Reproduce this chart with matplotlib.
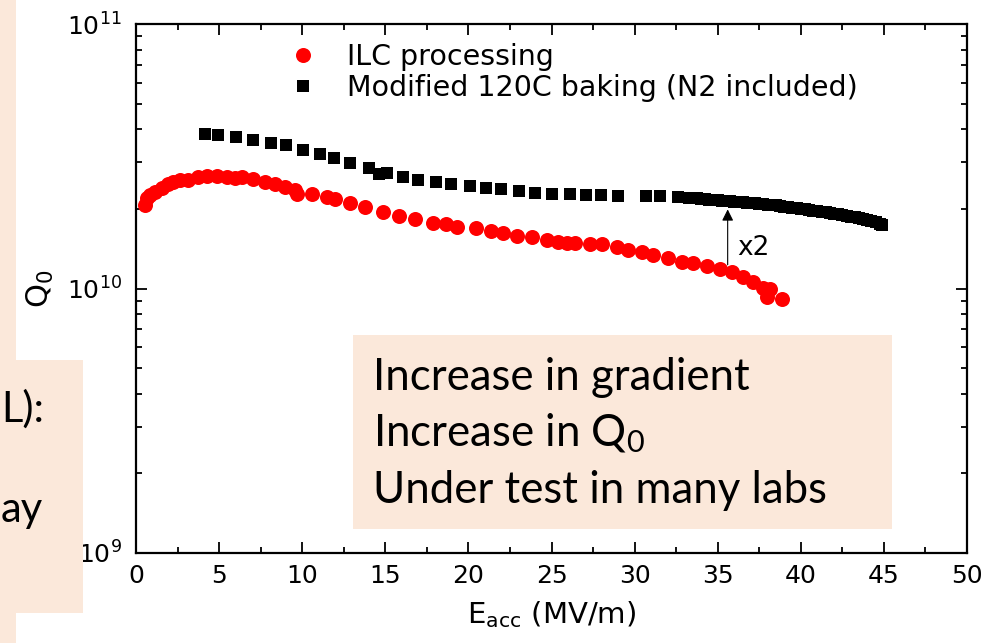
import matplotlib.pyplot as plt
from matplotlib.patches import Rectangle
from matplotlib.ticker import MultipleLocator, LogLocator, NullFormatter

# ILC processing: E_acc (MV/m) and Q0 (units of 1e10)
ilc_e = [0.54, 0.66, 0.84, 1.14, 1.56, 1.93, 2.23, 2.65, 3.13, 3.73, 4.27, 4.87,
         5.48, 5.96, 6.38, 7.04, 7.76, 8.36, 8.97, 9.57, 9.69, 10.59, 11.49, 11.97,
         12.9, 13.78, 14.86, 15.82, 16.79, 17.87, 18.65, 19.31, 20.46, 21.36, 22.08,
         22.92, 23.83, 24.73, 25.39, 25.93, 26.41, 27.32, 28.04, 28.94, 29.60, 30.45,
         31.11, 32.01, 32.85, 33.51, 34.36, 35.14, 35.86, 36.52, 37.12, 37.73, 38.15,
         37.97, 38.87]
ilc_q = [2.07, 2.20, 2.26, 2.32, 2.40, 2.48, 2.53, 2.57, 2.57, 2.64, 2.66, 2.66,
         2.64, 2.62, 2.64, 2.59, 2.53, 2.48, 2.42, 2.36, 2.28, 2.28, 2.22, 2.18,
         2.10, 2.03, 1.95, 1.88, 1.83, 1.77, 1.75, 1.71, 1.69, 1.65, 1.62,
         1.58, 1.57, 1.53, 1.50, 1.49, 1.485, 1.47, 1.47, 1.44, 1.40, 1.37,
         1.34, 1.30, 1.26, 1.25, 1.22, 1.19, 1.15, 1.105, 1.06, 1.005, 1.0,
         0.929, 0.912]

# Modified 120C baking (N2 included)
bake_e = [4.15, 4.93, 6.02, 7.04, 8.12, 9.03, 10.05, 11.07, 11.91, 12.9, 14.02, 14.62,
          15.10, 16.07, 16.97, 18.05, 18.95, 20.10, 21.06, 21.96, 23.04, 24.01, 25.03,
          26.1, 27.1, 28.0, 29.0, 30.7, 31.5, 32.6,
          33.25, 33.5, 33.75, 34.0, 34.25, 34.5, 34.75, 35.0, 35.25, 35.5, 35.75, 36.0,
          36.25, 36.5, 36.75, 37.0, 37.25, 37.5, 37.75, 38.0, 38.25, 38.5, 38.75, 39.0,
          39.25, 39.5, 39.75, 40.0, 40.25, 40.5, 40.75, 41.0, 41.25, 41.5, 41.75, 42.0,
          42.25, 42.5, 42.75, 43.0, 43.25, 43.5, 43.75, 44.0, 44.25, 44.5, 44.75, 44.9]
bake_q = [3.84, 3.80, 3.74, 3.64, 3.55, 3.49, 3.34, 3.23, 3.12, 2.98, 2.85, 2.71,
          2.73, 2.64, 2.57, 2.53, 2.48, 2.44, 2.40, 2.38, 2.34, 2.30, 2.28,
          2.28, 2.26, 2.25, 2.24, 2.24, 2.23, 2.22,
          2.20, 2.19, 2.19, 2.18, 2.18, 2.17, 2.17, 2.16, 2.15, 2.14, 2.14, 2.13,
          2.13, 2.12, 2.11, 2.10, 2.10, 2.09, 2.08, 2.07, 2.07, 2.06, 2.05, 2.04,
          2.03, 2.02, 2.01, 2.00, 1.99, 1.98, 1.97, 1.96, 1.95, 1.94, 1.93, 1.92,
          1.91, 1.90, 1.88, 1.87, 1.86, 1.84, 1.83, 1.81, 1.80, 1.78, 1.76, 1.74]

xticks = [0, 5, 10, 15, 20, 25, 30, 35, 40, 45, 50]
bullets = ['Increase in gradient', r'Increase in Q$\mathregular{_0}$', 'Under test in many labs']

peach = '#FBE8DA'
W, H = 981, 643

fig = plt.figure(figsize=(9.81, 6.43), dpi=100)
ax = fig.add_axes([136 / W, 1 - 553 / H, (967 - 136) / W, (553 - 24) / H])

ax.plot(ilc_e, [q * 1e10 for q in ilc_q], 'o', color='#FF0000', ms=10.8, mew=0,
        label='ILC processing')
ax.plot(bake_e, [q * 1e10 for q in bake_q], 's', color='black', ms=9.3, mew=0,
        label='Modified 120C baking (N2 included)')

ax.set_yscale('log')
ax.set_xlim(0, 50)
ax.set_ylim(1e9, 1e11)
ax.set_xticks(xticks)
ax.xaxis.set_minor_locator(MultipleLocator(2.5))
ax.yaxis.set_major_locator(LogLocator(base=10))
ax.yaxis.set_minor_locator(LogLocator(base=10, subs=range(2, 10)))
ax.yaxis.set_minor_formatter(NullFormatter())

for s in ax.spines.values():
    s.set_linewidth(1.6)
ax.tick_params(which='both', direction='in', top=True, right=True, width=1.3)
ax.tick_params(which='major', length=8, labelsize=18)
ax.tick_params(which='minor', length=4)
ax.tick_params(axis='x', pad=8)
ax.tick_params(axis='y', pad=10)

ax.set_xlabel(r'E$\mathregular{_{acc}}$ (MV/m)', fontsize=21, labelpad=8)
ax.set_ylabel(r'Q$\mathregular{_0}$', fontsize=22, labelpad=8)

# x2 arrow between the two curves
ax.annotate('', xy=(35.6, 2.04e10), xytext=(35.6, 1.2e10),
            arrowprops=dict(arrowstyle='-|>', color='black', lw=0.8, mutation_scale=17))
ax.text(36.2, 1.42e10, 'x2', fontsize=19, va='center', ha='left')

ax.legend(loc='upper left', bbox_to_anchor=(289 / W, 1 - 43 / H),
          bbox_transform=fig.transFigure, frameon=False, fontsize=20.5,
          handlelength=1.0, handletextpad=1.05, labelspacing=0.12,
          borderpad=0, borderaxespad=0)

# slide background boxes
fig.add_artist(Rectangle((0, 0), 16 / W, 1, transform=fig.transFigure,
                         color=peach, lw=0, zorder=5))
fig.add_artist(Rectangle((0, 1 - 613 / H), 83 / W, (613 - 360) / H,
                         transform=fig.transFigure, color=peach, lw=0, zorder=5))
fig.text(1 / W, 1 - 422 / H, 'L):', fontsize=30, family='Lato', zorder=6)
fig.text(1 / W, 1 - 522 / H, 'ay', fontsize=30, family='Lato', zorder=6)

fig.add_artist(Rectangle((353 / W, 1 - 529 / H), (892 - 353) / W, (529 - 335) / H,
                         transform=fig.transFigure, color=peach, lw=0, zorder=5))
for i, line in enumerate(bullets):
    fig.text(373 / W, 1 - (390 + 56.5 * i) / H, line, fontsize=31.5, family='Lato',
             zorder=6, va='baseline')

fig.savefig('out.png', dpi=100)
